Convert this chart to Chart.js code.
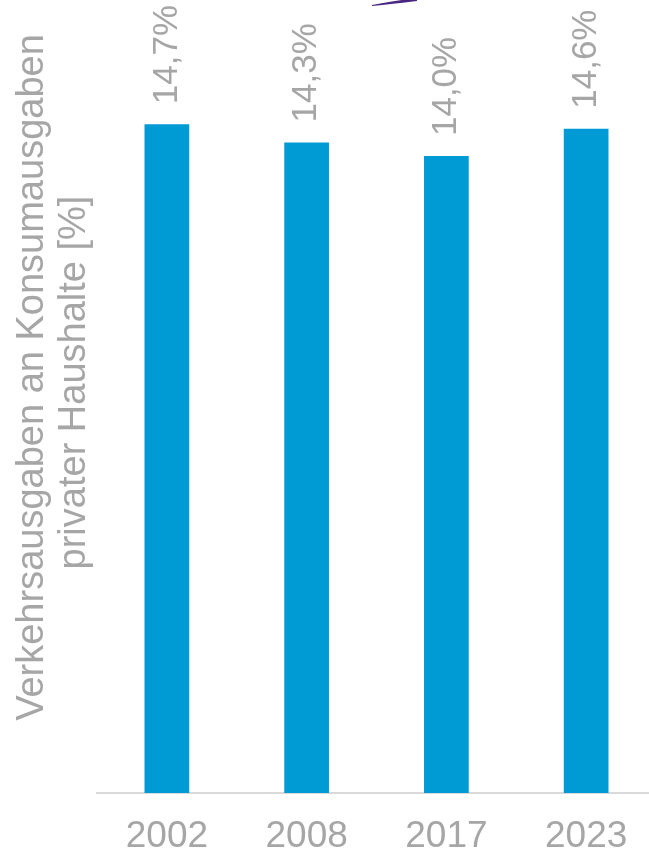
<!DOCTYPE html>
<html>
<head>
  <title>Verkehrsausgaben</title>
  <script src="https://cdn.jsdelivr.net/npm/chart.js"></script>
  <style>
    body { margin: 0; overflow: hidden; background: #fff; }
    .wrap { width: 656px; height: 854px; }
  </style>
</head>
<body>
  <div class="wrap">
    <canvas id="chart"></canvas>
  </div>

  <script>
    const years = ["2002", "2008", "2017", "2023"];
    const shares = [14.7, 14.3, 14.0, 14.6];
    const shareLabels = ["14,7%", "14,3%", "14,0%", "14,6%"];
    const axisTitle = ["Verkehrsausgaben an Konsumausgaben", "privater Haushalte [%]"];

    const grey = "#a6a6a6";
    const font = "Arial, 'Liberation Sans', sans-serif";

    // rotated value labels above the bars
    const barLabels = {
      id: "barLabels",
      afterDatasetsDraw(chart) {
        const ctx = chart.ctx;
        const meta = chart.getDatasetMeta(0);
        ctx.save();
        ctx.fillStyle = grey;
        ctx.font = "35px " + font;
        ctx.textAlign = "left";
        ctx.textBaseline = "middle";
        meta.data.forEach((bar, i) => {
          ctx.save();
          ctx.translate(bar.x, bar.y - 20);
          ctx.rotate(-Math.PI / 2);
          ctx.fillText(shareLabels[i], 0, 0);
          ctx.restore();
        });
        ctx.restore();
      }
    };

    // y axis title, drawn by hand so it sits a bit above the chart middle like the original
    const sideTitle = {
      id: "sideTitle",
      afterDraw(chart) {
        const ctx = chart.ctx;
        const mid = (chart.chartArea.top + chart.chartArea.bottom) / 2 - 19;
        ctx.save();
        ctx.fillStyle = grey;
        ctx.font = "38px " + font;
        ctx.textAlign = "center";
        ctx.textBaseline = "middle";
        axisTitle.forEach((line, i) => {
          ctx.save();
          ctx.translate(33 + i * 42, mid + i * 5);
          ctx.rotate(-Math.PI / 2);
          ctx.fillText(line, 0, 0);
          ctx.restore();
        });
        ctx.restore();
      }
    };

    // stray purple stroke cut off at the top edge of the original image
    const topStroke = {
      id: "topStroke",
      afterDraw(chart) {
        const ctx = chart.ctx;
        ctx.save();
        ctx.fillStyle = "#4a2683";
        ctx.beginPath();
        ctx.moveTo(372, 5);
        ctx.quadraticCurveTo(392, 1, 417, -2);
        ctx.lineTo(417, 1);
        ctx.quadraticCurveTo(392, 4, 372, 6);
        ctx.closePath();
        ctx.fill();
        ctx.restore();
      }
    };

    new Chart(document.getElementById("chart"), {
      type: "bar",
      data: {
        labels: years,
        datasets: [{
          data: shares,
          backgroundColor: "#009bd5",
          barPercentage: 0.64,
          categoryPercentage: 0.5
        }]
      },
      options: {
        responsive: true,
        maintainAspectRatio: false,
        animation: false,
        layout: { padding: 0 },
        plugins: {
          legend: { display: false },
          tooltip: { enabled: false }
        },
        scales: {
          x: {
            grid: { display: false, drawTicks: false },
            border: { display: true, color: "#d9d9d9", width: 2 },
            ticks: { color: grey, font: { size: 37, family: font }, padding: 22 },
            afterFit(scale) { scale.height = 61; }
          },
          y: {
            min: 0,
            max: 17.43,
            grid: { display: false, drawTicks: false },
            border: { display: false },
            ticks: { display: false },
            afterFit(scale) { scale.width = 97; }
          }
        }
      },
      plugins: [barLabels, sideTitle, topStroke]
    });
  </script>
</body>
</html>
